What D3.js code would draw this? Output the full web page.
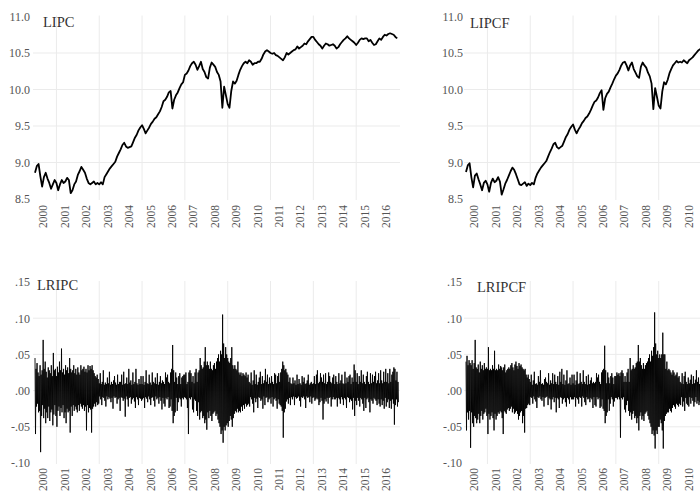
<!DOCTYPE html>
<html><head><meta charset="utf-8">
<script src="https://cdn.jsdelivr.net/npm/d3@7"></script>
<style>body{margin:0;background:#fff}svg{display:block}</style>
</head><body><svg id="c" width="700" height="496"></svg>
<script>
// ---------- data ----------
const years = [2000,2001,2002,2003,2004,2005,2006,2007,2008,2009,2010,2011,2012,2013,2014,2015,2016];
const yearLabels = ["2000","2001","2002","2003","2004","2005","2006","2007","2008","2009","2010","2011","2012","2013","2014","2015","2016"];
const gridYears = [2001,2003,2005,2007,2009,2011,2013,2015];
const levelTicks = [8.5,9.0,9.5,10.0,10.5,11.0];
const levelTickLabels = ["8.5","9.0","9.5","10.0","10.5","11.0"];
const retTicks = [-100,-50,0,50,100,150];            // thousandths
const retTickLabels = ["-.10","-.05",".00",".05",".10",".15"];

// monthly levels from Jan 2000
const lipc = [
 8.86,8.95,8.98,8.81,8.67,8.80,8.86,8.78,8.72,8.64,8.70,8.76,
 8.72,8.62,8.70,8.76,8.72,8.74,8.79,8.76,8.58,8.62,8.70,8.74,
 8.83,8.88,8.94,8.90,8.86,8.78,8.72,8.70,8.72,8.74,8.70,8.72,
 8.70,8.73,8.70,8.80,8.84,8.88,8.92,8.95,8.98,9.01,9.08,9.13,
 9.18,9.24,9.27,9.22,9.20,9.21,9.22,9.28,9.34,9.38,9.44,9.48,
 9.51,9.46,9.40,9.44,9.48,9.53,9.56,9.60,9.62,9.66,9.70,9.76,
 9.84,9.86,9.90,9.96,9.98,9.74,9.86,9.92,9.96,10.02,10.07,10.10,
 10.20,10.22,10.26,10.32,10.36,10.38,10.34,10.27,10.32,10.38,10.28,10.24,
 10.17,10.15,10.30,10.37,10.34,10.31,10.24,10.20,10.11,9.75,10.04,9.92,
 9.80,9.75,9.98,10.11,10.08,10.12,10.20,10.27,10.32,10.36,10.38,10.36,
 10.40,10.38,10.34,10.36,10.36,10.38,10.38,10.42,10.48,10.52,10.54,10.52,
 10.50,10.49,10.50,10.47,10.46,10.44,10.42,10.40,10.44,10.50,10.48,10.50,
 10.52,10.54,10.55,10.59,10.56,10.58,10.60,10.63,10.62,10.66,10.69,10.72,
 10.72,10.68,10.65,10.62,10.60,10.56,10.60,10.63,10.62,10.60,10.61,10.62,
 10.60,10.56,10.58,10.62,10.65,10.68,10.70,10.73,10.70,10.68,10.66,10.64,
 10.61,10.64,10.68,10.70,10.69,10.70,10.70,10.66,10.68,10.64,10.61,10.62,
 10.66,10.70,10.68,10.72,10.75,10.74,10.76,10.77,10.76,10.75,10.72,10.70
];
// visible part only (the right-hand panels are cut at the page edge)
const lipcf = [
 8.87,8.96,8.99,8.80,8.66,8.82,8.85,8.77,8.70,8.62,8.72,8.75,
 8.70,8.60,8.72,8.78,8.73,8.75,8.80,8.74,8.56,8.63,8.71,8.76,
 8.82,8.88,8.93,8.90,8.84,8.77,8.70,8.69,8.71,8.73,8.68,8.71,
 8.69,8.72,8.70,8.79,8.85,8.89,8.93,8.96,8.99,9.02,9.08,9.14,
 9.19,9.25,9.27,9.21,9.19,9.21,9.23,9.29,9.35,9.39,9.45,9.49,
 9.52,9.45,9.40,9.45,9.49,9.54,9.57,9.61,9.63,9.67,9.72,9.78,
 9.83,9.85,9.89,9.95,9.99,9.72,9.88,9.94,9.97,10.03,10.08,10.14,
 10.19,10.22,10.27,10.33,10.37,10.38,10.33,10.26,10.33,10.37,10.28,10.23,
 10.18,10.16,10.31,10.37,10.33,10.30,10.23,10.18,10.08,9.73,10.02,9.90,
 9.78,9.74,9.97,10.10,10.07,10.13,10.22,10.28,10.33,10.36,10.39,10.37,
 10.38,10.37,10.40,10.38,10.36,10.40,10.42,10.44,10.47,10.50,10.53,10.55,
 10.56
];

// daily-style log returns in thousandths, 42 observations per year from 2000
const lripc = [
 45,-60,30,-22,38,-18,25,-30,20,-28,35,-85,22,-35,28,-20,70,-38,30,-25,40,-45,26,-30,18,-38,32,-22,28,-42,24,-30,35,-26,20,-48,52,-33,28,-20,30,-35,
 20,-50,33,-28,25,-22,40,-35,28,-24,58,-30,25,-20,30,-38,22,-30,35,-45,28,-25,32,-30,24,-28,45,-58,30,-22,25,-35,28,-20,35,-28,24,-22,30,-26,22,-30,
 32,-20,25,-28,22,-18,35,-22,28,-25,30,-20,33,-28,26,-22,30,-55,25,-20,35,-30,28,-24,34,-26,30,-58,35,-25,28,-22,24,-18,20,-22,18,-16,22,-20,16,-18,
 10,-8,24,-12,9,-20,12,-9,28,-10,8,-14,11,-22,9,-8,18,-12,10,-9,26,-11,8,-16,12,-10,9,-25,14,-8,20,-10,11,-9,8,-18,22,-12,9,-10,12,-28,
 12,-9,22,-10,8,-14,26,-11,9,-36,10,-8,18,-12,9,-22,30,-10,11,-9,14,-18,8,-12,25,-10,9,-15,12,-24,30,-9,10,-12,8,-20,16,-10,9,-11,20,-14,
 9,-12,20,-10,8,-24,12,-9,28,-11,10,-16,9,-8,22,-12,11,-20,8,-10,25,-9,12,-14,10,-22,18,-8,9,-12,24,-10,8,-18,12,-9,20,-14,10,-26,14,-10,
 12,-18,9,-22,25,-10,18,-12,22,-9,12,-24,10,-22,25,-12,30,-28,63,-45,28,-35,12,-30,25,-10,18,-28,9,-16,20,-10,24,-12,9,-22,18,-10,20,-12,22,-9,
 22,-10,25,-12,9,-24,12,-60,25,-10,28,-12,24,-9,12,-26,20,-30,10,-12,25,-14,30,-28,12,-35,25,-16,28,-40,45,-30,35,-28,30,-38,32,-35,40,-45,60,-40,
 35,-54,40,-30,35,-38,30,-28,40,-35,30,-42,28,-32,35,-30,38,-28,30,-35,40,-32,45,-40,50,-45,40,-50,55,-60,50,-55,105,-72,65,-50,45,-55,60,-48,50,-45,
 45,-50,40,-42,38,-35,45,-40,60,-50,35,-38,30,-32,35,-28,30,-30,28,-25,40,-30,25,-28,22,-30,25,-22,20,-28,24,-20,22,-25,20,-18,25,-22,18,-20,22,-18,
 12,-22,10,-9,25,-12,8,-18,14,-30,28,-10,9,-16,22,-11,8,-24,12,-9,18,-10,26,-14,9,-12,20,-25,10,-8,14,-20,30,-10,12,-9,22,-16,9,-12,18,-10,
 10,-18,20,-9,12,-22,9,-12,24,-10,22,-14,10,-25,20,-12,24,-18,12,-20,25,-22,30,-28,40,-65,35,-30,28,-25,30,-15,25,-12,22,-18,12,-10,18,-20,10,-9,
 9,-12,18,-8,10,-20,14,-9,8,-11,22,-10,9,-8,16,-14,10,-22,8,-9,20,-10,12,-8,18,-12,9,-24,10,-8,14,-10,22,-9,8,-16,10,-8,12,-18,9,-10,
 10,-9,20,-14,9,-12,22,-10,28,-12,10,-20,12,-16,24,-10,18,-14,12,-40,22,-18,10,-12,24,-15,9,-10,12,-18,25,-10,20,-9,12,-22,10,-12,18,-9,22,-12,
 9,-12,20,-10,12,-22,9,-10,24,-12,10,-18,14,-9,22,-12,10,-20,9,-10,26,-12,10,-24,18,-9,12,-10,20,-16,22,-12,9,-14,18,-26,12,-10,36,-35,28,-14,
 12,-20,24,-10,9,-14,20,-22,12,-10,28,-12,10,-18,22,-28,12,-10,9,-24,20,-12,26,-10,12,-16,9,-30,24,-12,10,-14,22,-18,12,-10,20,-12,26,-14,10,-20,
 14,-12,24,-18,10,-22,28,-12,14,-20,10,-14,26,-25,12,-10,30,-22,12,-16,24,-12,10,-24,30,-14,12,-25,22,-12,26,-18,32,-47,30,-20,14,-12,26,-22,12,-16
];
const lripcf = [
 40,-55,48,-30,35,-40,42,-28,38,-79,35,-30,42,-45,30,-50,38,-35,70,-38,32,-45,30,-40,36,-32,25,-45,40,-35,30,-28,35,-40,28,-32,38,-30,30,-25,32,-35,
 30,-60,60,-32,28,-40,30,-35,28,-30,35,-38,30,-55,55,-32,28,-40,30,-35,28,-30,36,-32,30,-28,34,-30,32,-38,28,-60,32,-28,36,-30,25,-32,28,-26,30,-24,
 32,-28,30,-25,35,-22,38,-30,32,-25,28,-32,36,-30,40,-28,34,-32,30,-40,38,-35,34,-30,36,-28,32,-45,30,-35,28,-58,30,-25,22,-24,18,-20,22,-18,16,-20,
 12,-9,22,-10,8,-18,14,-8,26,-12,9,-15,10,-24,8,-9,20,-10,12,-8,28,-12,9,-14,10,-9,8,-22,16,-10,18,-9,12,-8,10,-20,24,-10,8,-12,14,-26,
 10,-12,24,-9,9,-16,22,-10,12,-30,9,-10,20,-12,8,-24,26,-9,12,-10,30,-18,9,-12,22,-10,8,-16,14,-22,28,-10,9,-12,10,-18,18,-9,8,-12,22,-12,
 10,-12,22,-9,8,-22,14,-10,26,-12,9,-18,10,-9,24,-10,12,-22,9,-8,28,-10,12,-16,9,-20,20,-9,8,-12,22,-11,9,-16,14,-10,18,-12,10,-24,12,-9,
 10,-20,12,-22,24,-9,18,-12,22,-10,12,-24,9,-22,25,-12,28,-25,30,-28,62,-45,28,-35,10,-30,25,-12,18,-28,10,-18,20,-9,24,-12,18,-22,9,-15,20,-10,
 20,-10,25,-12,22,-9,24,-12,20,-65,25,-10,28,-12,24,-9,12,-26,20,-30,12,-20,25,-14,30,-28,12,-35,45,-30,28,-40,30,-32,35,-28,30,-38,32,-35,38,-45,
 40,-38,63,-55,40,-35,45,-30,35,-40,30,-35,38,-42,30,-32,35,-30,38,-28,40,-35,45,-40,50,-45,40,-50,55,-60,48,-55,60,-62,108,-80,65,-55,50,-60,55,-50,
 45,-50,50,-40,45,-45,50,-55,80,-80,50,-42,50,-35,30,-32,40,-30,28,-30,30,-25,28,-28,25,-30,22,-24,28,-20,25,-22,20,-25,22,-18,25,-20,18,-22,20,-18,
 12,-20,10,-9,24,-22,9,-15,20,-28,26,-10,12,-18,9,-20,18,-22,10,-9,15,-18,22,-10,9,-14,20,-22,10,-16,15,-9,28,-18,12,-14,18,-20,9,-16,20,-10
];

// ---------- drawing ----------
const W = 700, H = 496;
const svg = d3.select('#c');
svg.append('rect').attr('width', W).attr('height', H).attr('fill', '#fff');
const FONT = '"Liberation Serif","DejaVu Serif",serif';

const panels = [
  {title:"LIPC",  data:lipc,  per:12, kind:"level", dx:0,   labelX:30,  titleX:43,  titleY:27,  xLabY:205},
  {title:"LIPCF", data:lipcf, per:12, kind:"level", dx:431, labelX:463, titleX:470, titleY:28,  xLabY:205},
  {title:"LRIPC", data:lripc, per:42, kind:"ret",   dx:0,   labelX:30,  titleX:37,  titleY:290, xLabY:468},
  {title:"LRIPCF",data:lripcf,per:42, kind:"ret",   dx:431, labelX:462, titleX:477, titleY:292, xLabY:468}
];

panels.forEach(p => {
  const x = d3.scaleLinear().domain([2000, 2017]).range([35 + p.dx, 399 + p.dx]);
  const isLevel = p.kind === "level";
  const y = isLevel
    ? d3.scaleLinear().domain([8.5, 11.0]).range([199, 16.5])
    : d3.scaleLinear().domain([-100, 150]).range([463, 282]);
  const ticks = isLevel ? levelTicks : retTicks;
  const tickLabels = isLevel ? levelTickLabels : retTickLabels;
  const top = y.range()[1], bot = y.range()[0];
  const g = svg.append('g');

  // grid
  g.selectAll('line.vg').data(gridYears.filter(d => x(d) < W)).join('line').attr('class','vg')
    .attr('x1', d => x(d)).attr('x2', d => x(d))
    .attr('y1', top - 1).attr('y2', bot + 1)
    .attr('stroke', '#ebebeb').attr('stroke-width', 1);
  g.selectAll('line.hg').data(ticks.slice(1, -1)).join('line').attr('class','hg')
    .attr('x1', x(2000) - 2).attr('x2', Math.min(W, x(2017) + 1))
    .attr('y1', d => y(d)).attr('y2', d => y(d))
    .attr('stroke', '#ebebeb').attr('stroke-width', 1);

  // y axis labels
  const ya = d3.axisLeft(y).tickValues(ticks).tickFormat((d, i) => tickLabels[i]).tickSize(0).tickPadding(0);
  g.append('g').attr('transform', `translate(${p.labelX},0)`).call(ya)
    .call(a => a.select('.domain').remove())
    .call(a => a.selectAll('text').attr('font-family', FONT).attr('font-size', 12).attr('fill', '#555'));

  // x axis labels (rotated years), only those that fall on the page
  const shown = years.map((v, i) => ({v: v + 0.37, label: yearLabels[i]})).filter(d => x(d.v) + 4 < W);
  const xa = d3.axisBottom(x).tickValues(shown.map(d => d.v)).tickFormat((d, i) => shown[i].label).tickSize(0);
  g.append('g').attr('transform', `translate(0,${p.xLabY})`).call(xa)
    .call(a => a.select('.domain').remove())
    .call(a => a.selectAll('text')
      .attr('x', 0).attr('y', 0).attr('dy', '0.35em')
      .attr('transform', 'rotate(-90)').attr('text-anchor', 'end')
      .attr('font-family', FONT).attr('font-size', 11.5).attr('fill', '#555'));

  // series
  const line = d3.line().x((d, i) => x(2000 + i / p.per)).y(d => y(d));
  g.append('path').datum(p.data).attr('d', line)
    .attr('fill', 'none').attr('stroke', '#000')
    .attr('stroke-width', isLevel ? 1.8 : 0.9)
    .attr('stroke-linejoin', 'round');

  // title
  g.append('text').attr('x', p.titleX).attr('y', p.titleY).text(p.title)
    .attr('font-family', FONT).attr('font-size', 14.5).attr('fill', '#333');
});
</script>
</body></html>
